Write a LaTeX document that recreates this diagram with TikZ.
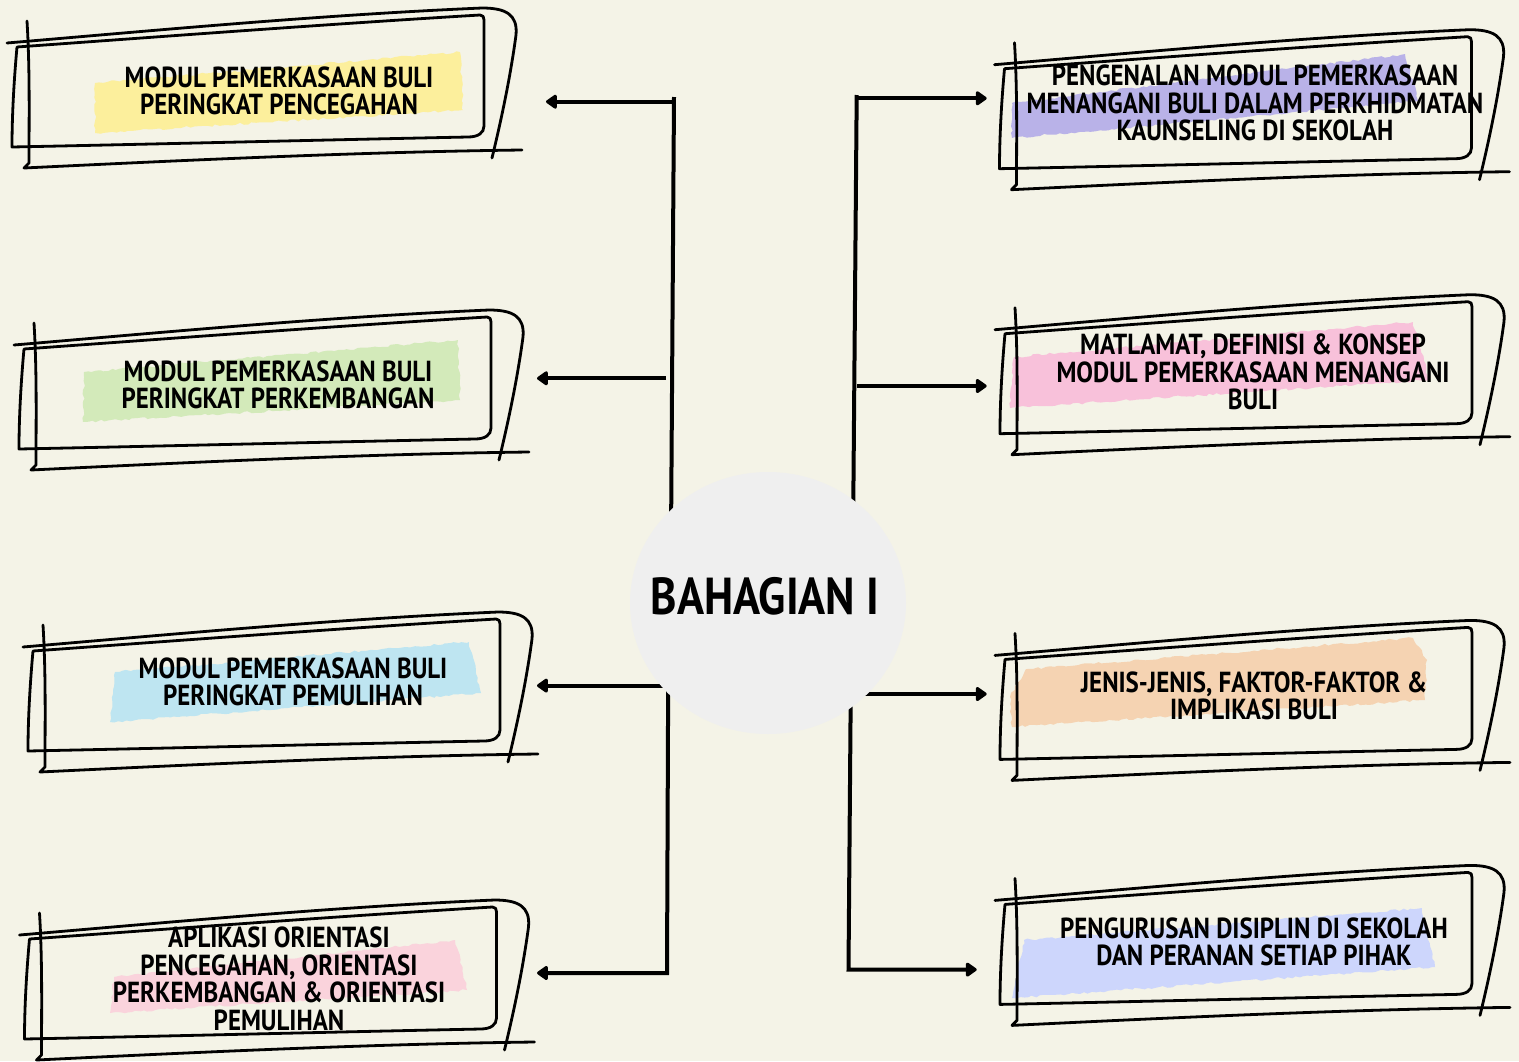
\documentclass[tikz,border=0pt]{standalone}
\usepackage{fontspec}
\setmainfont{PT Sans}[FakeStretch=0.86]
\usetikzlibrary{arrows.meta,shapes.geometric,decorations.pathmorphing}
\definecolor{bg}{HTML}{F4F3E7}
\definecolor{hubfill}{HTML}{EFEFEF}
\definecolor{cyellow}{HTML}{FCEF9C}
\definecolor{cgreen}{HTML}{D3EABA}
\definecolor{cblue}{HTML}{BEE5F1}
\definecolor{cpink}{HTML}{FAD3DC}
\definecolor{cpurple}{HTML}{B9B2E8}
\definecolor{cmagenta}{HTML}{F8C1DA}
\definecolor{corange}{HTML}{F5D3B2}
\definecolor{cperi}{HTML}{CDD6FC}
\tikzset{
  frameline/.style={draw=black, line width=2.8pt, line cap=round, line join=round},
  band/.style={decorate, decoration={random steps, segment length=4pt, amplitude=1.2pt}},
  boxtext/.style={align=center, inner sep=0pt, text=black,
    font=\fontsize{29}{27.6}\selectfont\bfseries},
  conn/.style={draw=black, line width=4pt},
  arr/.style={conn, -{Triangle[length=12pt,width=16pt,round]}},
  sketchframe/.pic={
    \draw[frameline] (17,47) .. controls (170,36) and (330,24) .. (480,15)
      .. controls (483,15) and (484,17) .. (484,20) -- (484,126)
      .. controls (484,133) and (478,137) .. (468,137)
      .. controls (320,140) and (160,144) .. (12,147)
      .. controls (12,115) and (14,80) .. (17,47);
    \draw[frameline] (7,43) .. controls (160,30) and (320,15) .. (482,8)
      .. controls (505,8) and (518,14) .. (516,35)
      .. controls (510,80) and (500,125) .. (492,158);
    \draw[frameline] (27,21) .. controls (30,70) and (29,120) .. (29,163)
      -- (24,168) .. controls (190,160) and (360,152) .. (522,150);
  }
}
\begin{document}
\begin{tikzpicture}[x=1pt,y=-1pt]
\pgfmathsetseed{7}
\path[use as bounding box, fill=bg] (0,0) rectangle (1519,1061);

% highlight bands
\fill[cyellow, band]  (95,83) -- (460,52) -- (463,110) -- (95,133) -- cycle;
\fill[cgreen, band]   (84,372) -- (458,340) -- (460,400) -- (83,422) -- cycle;
\fill[cblue, band]    (115,672) -- (469,642) -- (481,693) -- (110,722) -- cycle;
\fill[cpink, band]    (114,977) -- (455,940) -- (467,990) -- (110,1013) -- cycle;
\fill[cpurple, band]  (1012,103) -- (1405,54) -- (1418,101) -- (1012,138) -- cycle;
\fill[cmagenta, band] (1014,357) -- (1413,322) -- (1429,380) -- (1010,408) -- cycle;
\fill[corange, band]  (1026,669) -- (1413,638) -- (1427,660) -- (1425,700) -- (1012,727) -- (1010,697) -- cycle;
\fill[cperi, band]    (1024,940) -- (1422,908) -- (1435,967) -- (1012,998) -- cycle;

% sketchy frames
\pic at (0,0) {sketchframe};
\pic at (7,302) {sketchframe};
\pic at (16,604) {sketchframe};
\pic at (12.5,892) {sketchframe};
\pic at (987.5,21.7) {sketchframe};
\pic at (988,286.7) {sketchframe};
\pic at (988,612.4) {sketchframe};
\pic at (988,857.4) {sketchframe};

% box texts
\node[boxtext] (l1) at (279,91) {MODUL PEMERKASAAN BULI\\PERINGKAT PENCEGAHAN};
\node[boxtext] (l2) at (278,385) {MODUL PEMERKASAAN BULI\\PERINGKAT PERKEMBANGAN};
\node[boxtext] (l3) at (293,682) {MODUL PEMERKASAAN BULI\\PERINGKAT PEMULIHAN};
\node[boxtext] (l4) at (279,979) {APLIKASI ORIENTASI\\PENCEGAHAN, ORIENTASI\\PERKEMBANGAN \& ORIENTASI\\PEMULIHAN};
\node[boxtext] (r1) at (1255,103) {PENGENALAN MODUL PEMERKASAAN\\MENANGANI BULI DALAM PERKHIDMATAN\\KAUNSELING DI SEKOLAH};
\node[boxtext] (r2) at (1253,372) {MATLAMAT, DEFINISI \& KONSEP\\MODUL PEMERKASAAN MENANGANI\\BULI};
\node[boxtext] (r3) at (1254,696) {JENIS-JENIS, FAKTOR-FAKTOR \&\\IMPLIKASI BULI};
\node[boxtext] (r4) at (1254,942) {PENGURUSAN DISIPLIN DI SEKOLAH\\DAN PERANAN SETIAP PIHAK};

% connector coordinates
\coordinate (lub) at (671,540);
\coordinate (lut) at (674,97);
\coordinate (luj1) at (674,101.7);
\coordinate (tip1) at (546,101.7);
\coordinate (luj2) at (666,378.3);
\coordinate (tip2) at (537,378.3);
\coordinate (llt) at (668.3,650);
\coordinate (llc) at (667,973);
\coordinate (llj) at (666.7,685.6);
\coordinate (tip3) at (537,685.6);
\coordinate (tip4) at (537,973);
\coordinate (rub) at (853,540);
\coordinate (rut) at (856.7,95);
\coordinate (ruj1) at (856.7,98.3);
\coordinate (tip5) at (986.7,98.3);
\coordinate (ruj2) at (857,386);
\coordinate (tip6) at (986.7,386);
\coordinate (rlt) at (851,660);
\coordinate (rlc) at (848.5,969.6);
\coordinate (rlj) at (856.7,694);
\coordinate (tip7) at (986.7,694);
\coordinate (tip8) at (976.7,969.6);

\draw[conn] (lub) -- (lut);
\draw[arr] (luj1) -- (tip1);
\draw[arr] (luj2) -- (tip2);
\draw[arr] (llt) -- (llc) -- (tip4);
\draw[arr] (llj) -- (tip3);
\draw[conn] (rub) -- (rut);
\draw[arr] (ruj1) -- (tip5);
\draw[arr] (ruj2) -- (tip6);
\draw[arr] (rlt) -- (rlc) -- (tip8);
\draw[arr] (rlj) -- (tip7);

% hub
\node[ellipse, fill=hubfill, minimum width=276pt, minimum height=262pt, inner sep=0pt] (hub) at (768,603) {};
\node[inner sep=0pt, font=\fontsize{52}{52}\selectfont\bfseries] (title) at (765,596) {BAHAGIAN I};
\end{tikzpicture}
\end{document}
